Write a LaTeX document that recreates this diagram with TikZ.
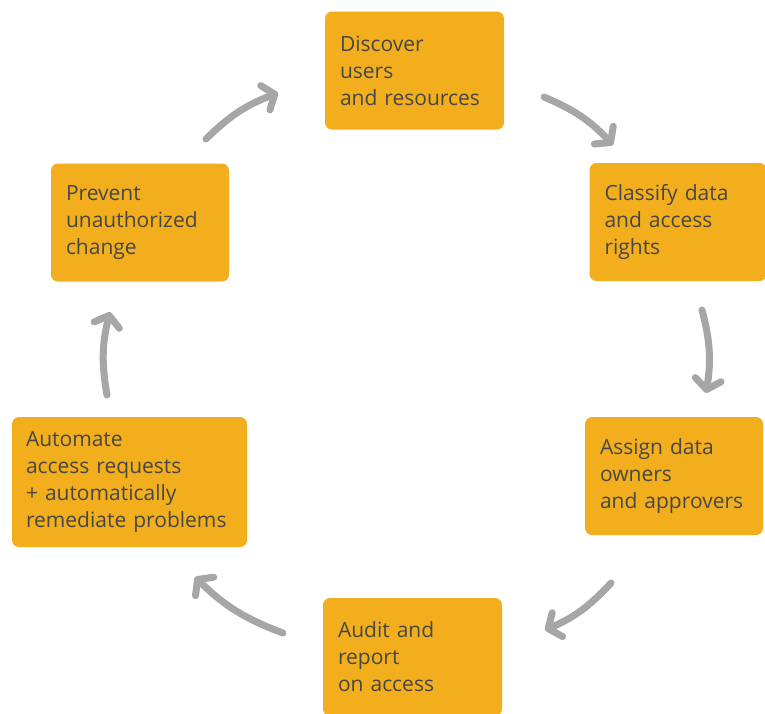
\documentclass[tikz,border=0pt]{standalone}
\usepackage{fontspec}
\setmainfont{Open Sans}
\usetikzlibrary{arrows.meta}
\definecolor{boxyellow}{HTML}{F2AE1C}
\definecolor{txtgray}{HTML}{474747}
\definecolor{arrowgray}{HTML}{A6A6A6}

\begin{document}
\begin{tikzpicture}[x=1pt,y=-1pt,
  stage/.style={fill=boxyellow, rounded corners=7pt, text=txtgray, align=left,
    inner xsep=15pt, inner ysep=0pt, minimum height=118pt,
    font=\fontsize{21}{27}\selectfont},
  flow/.style={arrowgray, line width=7pt, line cap=round,
    -{Straight Barb[round,length=10pt,width=26pt]}}]
  \useasboundingbox (0,0) rectangle (765,713);

  % the six steps, clockwise from the top
  \node[stage, text width=149pt] (discover) at (414.5,70.5) {Discover\\users\\and resources};
  \node[stage, text width=147pt] (classify) at (678,222) {Classify data\\and access\\rights};
  \node[stage, text width=148pt] (assign) at (674,476) {Assign data\\owners\\and approvers};
  \node[stage, text width=149pt] (audit) at (412.5,657) {Audit and\\report\\on access};
  \node[stage, text width=207pt, inner xsep=14pt, minimum height=130pt] (automate) at (129.5,482)
    {Automate\\access requests\\+ automatically\\remediate problems};
  \node[stage, text width=148pt] (prevent) at (140,222.5) {Prevent\\unauthorized\\change};

  % arrow ends sit in the gaps between the boxes
  \coordinate (p1) at (206,139);  \coordinate (d1) at (278,93);
  \coordinate (d2) at (544,97);   \coordinate (c2) at (613,145);
  \coordinate (c3) at (702,310);  \coordinate (a3) at (706,393);
  \coordinate (a4) at (611,583);  \coordinate (u4) at (545,630);
  \coordinate (u5) at (283,633);  \coordinate (m5) at (195,577);
  \coordinate (m6) at (107,395);  \coordinate (v6) at (110,312);

  \foreach \s/\e in {p1/d1, d2/c2, c3/a3, a4/u4, u5/m5, m6/v6}
    \draw[flow] (\s) to[bend left=12] (\e);
\end{tikzpicture}
\end{document}
